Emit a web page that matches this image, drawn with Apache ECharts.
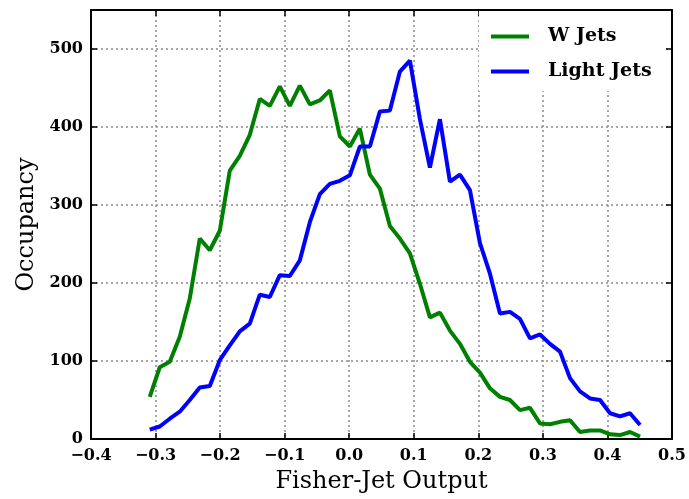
<!DOCTYPE html>
<html>
<head>
<meta charset="utf-8">
<script src="https://cdn.jsdelivr.net/npm/echarts@6/dist/echarts.min.js"></script>
<style>html,body{margin:0;padding:0;background:#fff;}#c{width:689px;height:499px;}</style>
</head>
<body>
<div id="c"></div>
<script>
// Bin positions (Fisher-Jet output)
const xValues = [-0.309,-0.2935,-0.278,-0.2625,-0.247,-0.2315,-0.216,-0.2005,-0.185,-0.1695,
  -0.154,-0.1385,-0.123,-0.1075,-0.092,-0.0765,-0.061,-0.0455,-0.030,-0.0145,
  0.001,0.0165,0.032,0.0475,0.063,0.0785,0.094,0.1095,0.125,0.1405,
  0.156,0.1715,0.187,0.2025,0.218,0.2335,0.249,0.2645,0.280,0.2955,
  0.311,0.3265,0.342,0.3575,0.373,0.3885,0.404,0.4195,0.435,0.4505];
const wJets = [54,92,99,131,180,257,242,267,344,363,
  390,436,427,452,427,453,429,434,447,388,
  375,398,339,321,273,257,238,199,156,162,
  139,122,99,85,65,54,50,37,40,20,
  19,22,24,9,11,11,6,5,9,3];
const lightJets = [12,16,26,35,50,66,68,101,120,138,
  148,185,182,210,209,229,278,314,327,331,
  338,375,375,420,421,471,485,410,348,410,
  330,339,319,251,212,161,163,154,129,134,
  122,112,78,61,52,50,33,29,33,18];
const seriesNames = ['W Jets', 'Light Jets'];
const xTitle = 'Fisher-Jet Output';
const yTitle = 'Occupancy';

const FONT = 'DejaVu Serif';
const chart = echarts.init(document.getElementById('c'), null, {renderer: 'canvas'});
const fmtX = v => { const s = Math.abs(v).toFixed(1); return v < -1e-9 ? '\u2212' + s : s; };
const split = {show: true, lineStyle: {color: '#8a8a8a', type: [2, 3], width: 1.5}};
const tick = {show: true, inside: true, length: 6, lineStyle: {color: '#000', width: 1.5}};
const frame = {show: true, onZero: false, lineStyle: {color: '#000', width: 2}};
chart.setOption({
  animation: false,
  backgroundColor: '#fff',
  grid: {left: 91, right: 17, top: 10, bottom: 58, show: false},
  legend: {
    orient: 'vertical', left: 479, top: 11, itemGap: 16,
    padding: [16, 12, 10, 12], backgroundColor: '#fff', z: 20,
    itemWidth: 38, itemHeight: 4, icon: 'rect',
    textStyle: {fontFamily: FONT, fontWeight: 'bold', fontSize: 19, color: '#000', padding: [0, 0, 0, 14]},
    data: seriesNames
  },
  xAxis: [{
    type: 'value', min: -0.4, max: 0.5, interval: 0.1,
    name: xTitle, nameLocation: 'middle', nameGap: 31,
    nameTextStyle: {fontFamily: FONT, fontSize: 24, color: '#000'},
    axisLine: frame, axisTick: tick, splitLine: split,
    axisLabel: {formatter: fmtX, fontFamily: FONT, fontWeight: 'bold', fontSize: 16, color: '#000', margin: 9}
  }, {
    type: 'value', position: 'top', min: -0.4, max: 0.5, interval: 0.1,
    axisLine: frame, axisTick: tick, splitLine: {show: false}, axisLabel: {show: false}
  }],
  yAxis: [{
    type: 'value', min: 0, max: 550, interval: 100,
    name: yTitle, nameLocation: 'middle', nameGap: 47, nameRotate: 90,
    nameTextStyle: {fontFamily: FONT, fontSize: 24, color: '#000'},
    axisLine: frame, axisTick: tick, splitLine: split,
    axisLabel: {formatter: v => (v > 500 ? '' : String(v)), fontFamily: FONT, fontWeight: 'bold', fontSize: 16, color: '#000', margin: 8}
  }, {
    type: 'value', position: 'right', min: 0, max: 550, interval: 100,
    axisLine: frame, axisTick: tick, splitLine: {show: false}, axisLabel: {show: false}
  }],
  series: [{
    name: seriesNames[0], type: 'line', showSymbol: false, symbol: 'none',
    lineStyle: {color: '#008000', width: 4}, itemStyle: {color: '#008000'},
    data: xValues.map((x, i) => [x, wJets[i]])
  }, {
    name: seriesNames[1], type: 'line', showSymbol: false, symbol: 'none',
    lineStyle: {color: '#0000ff', width: 4}, itemStyle: {color: '#0000ff'},
    data: xValues.map((x, i) => [x, lightJets[i]])
  }]
});
</script>
</body>
</html>
